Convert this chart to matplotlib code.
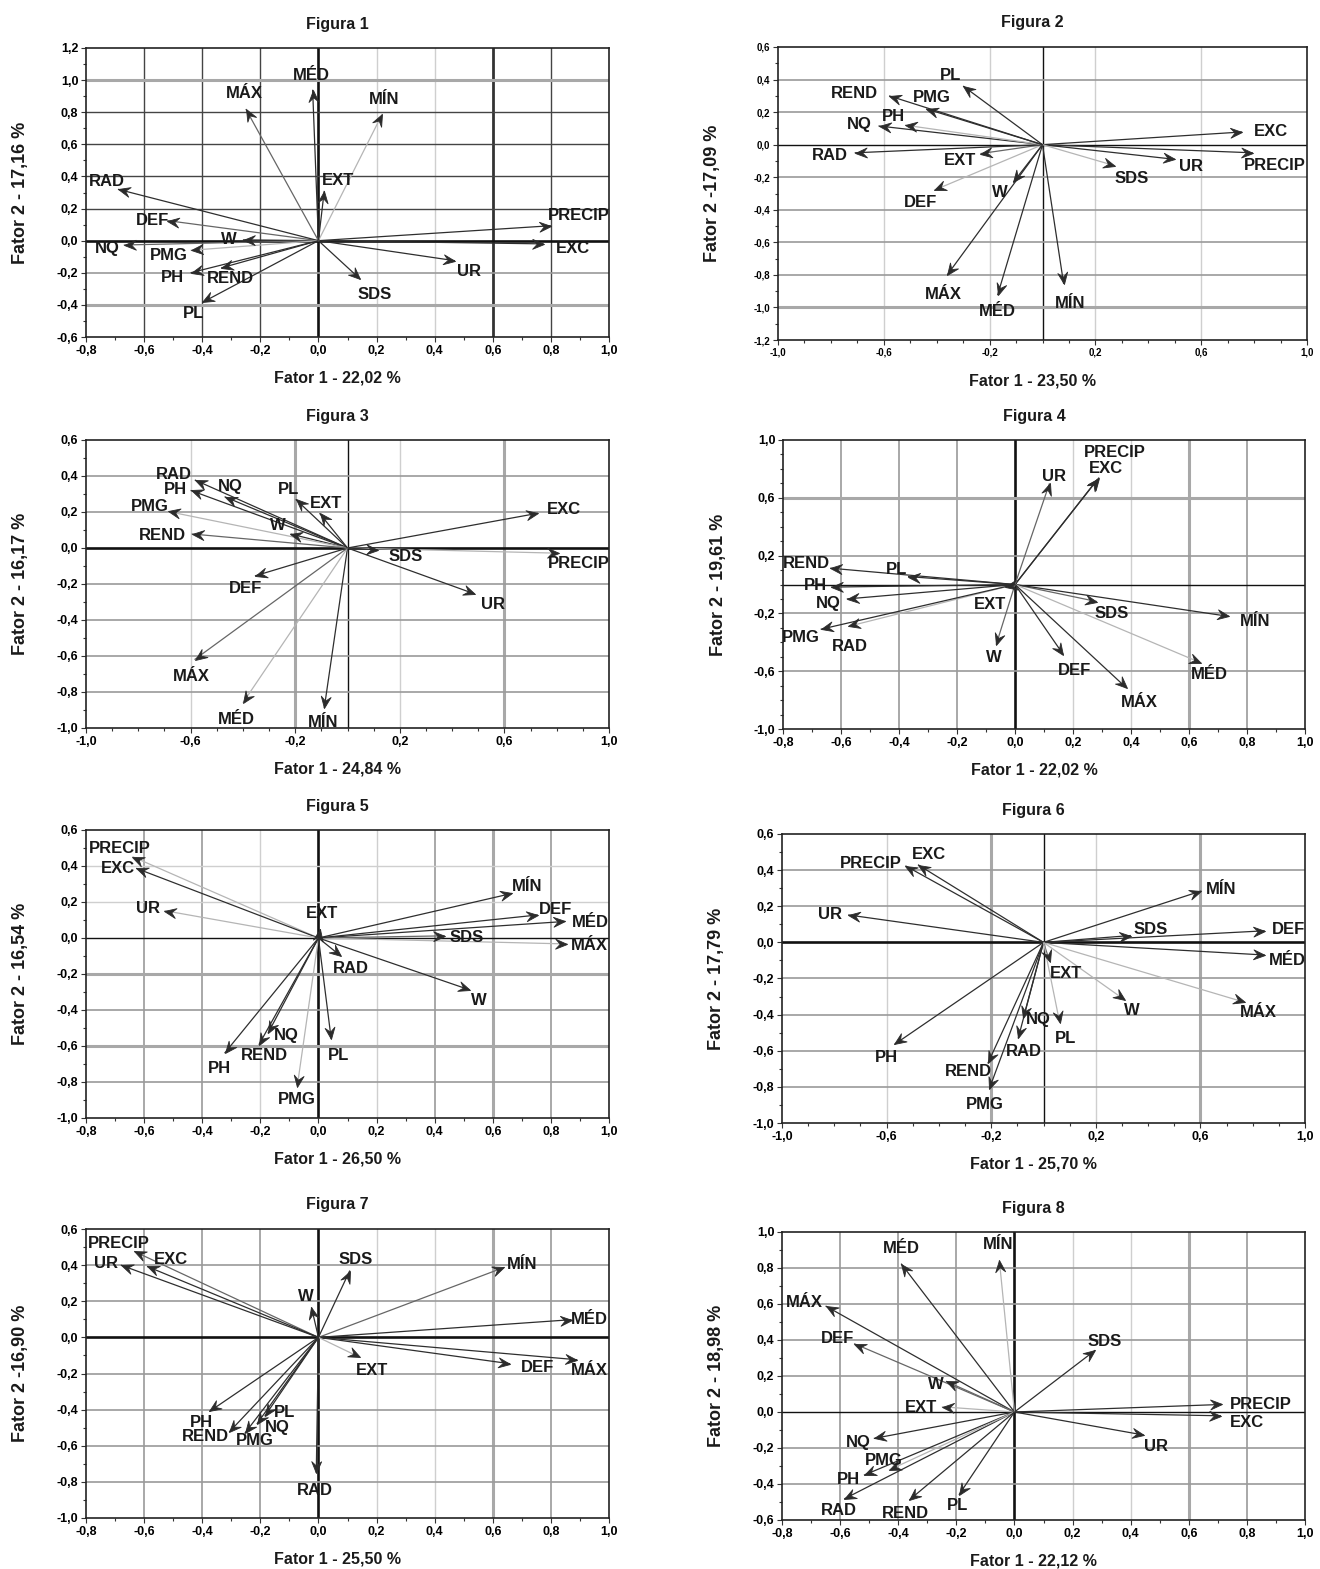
import numpy as np
import matplotlib
matplotlib.use('Agg')
import matplotlib.pyplot as plt
from matplotlib.path import Path
from matplotlib.markers import MarkerStyle
from matplotlib.transforms import Affine2D
from matplotlib.ticker import FuncFormatter, MultipleLocator, FixedLocator

plt.rcParams['font.family'] = ['Liberation Sans', 'DejaVu Sans']

W, H = 1320, 1569

# ---------------- data ----------------
VARS = ['PRECIP', 'EXC', 'UR', 'SDS', 'MÍN', 'MÉD', 'MÁX', 'DEF',
        'EXT', 'W', 'RAD', 'NQ', 'PH', 'PMG', 'REND', 'PL']

TITLES = ['Figura 1', 'Figura 2', 'Figura 3', 'Figura 4',
          'Figura 5', 'Figura 6', 'Figura 7', 'Figura 8']
XLABELS = ['Fator 1 - 22,02 %', 'Fator 1 - 23,50 %', 'Fator 1 - 24,84 %', 'Fator 1 - 22,02 %',
           'Fator 1 - 26,50 %', 'Fator 1 - 25,70 %', 'Fator 1 - 25,50 %', 'Fator 1 - 22,12 %']
YLABELS = ['Fator 2 - 17,16 %', 'Fator 2 -17,09 %', 'Fator 2 - 16,17 %', 'Fator 2 - 19,61 %',
           'Fator 2 - 16,54 %', 'Fator 2 - 17,79 %', 'Fator 2 -16,90 %', 'Fator 2 - 18,98 %']

fig1_f1 = [0.80, 0.775, 0.47, 0.144, 0.22, -0.02, -0.25, -0.52, 0.02, -0.26, -0.69, -0.67, -0.44, -0.44, -0.335, -0.40]
fig1_f2 = [0.093, -0.02, -0.125, -0.24, 0.79, 0.94, 0.82, 0.125, 0.31, 0.005, 0.32, -0.027, -0.20, -0.06, -0.17, -0.385]

fig2_f1 = [0.795, 0.755, 0.50, 0.275, 0.08, -0.17, -0.36, -0.41, -0.235, -0.11, -0.71, -0.62, -0.52, -0.44, -0.58, -0.30]
fig2_f2 = [-0.05, 0.078, -0.09, -0.13, -0.855, -0.925, -0.80, -0.28, -0.055, -0.23, -0.05, 0.115, 0.12, 0.22, 0.30, 0.36]

fig3_f1 = [0.81, 0.728, 0.486, 0.115, -0.089, -0.40, -0.585, -0.354, -0.107, -0.218, -0.584, -0.47, -0.60, -0.687, -0.596, -0.198]
fig3_f2 = [-0.029, 0.193, -0.255, -0.01, -0.89, -0.86, -0.62, -0.155, 0.193, 0.078, 0.378, 0.285, 0.32, 0.203, 0.078, 0.27]

fig4_f1 = [0.29, 0.285, 0.119, 0.282, 0.738, 0.643, 0.385, 0.167, -0.035, -0.065, -0.575, -0.58, -0.634, -0.67, -0.637, -0.369]
fig4_f2 = [0.74, 0.73, 0.70, -0.118, -0.221, -0.544, -0.717, -0.486, -0.014, -0.417, -0.29, -0.10, -0.018, -0.31, 0.113, 0.055]

fig5_f1 = [-0.64, -0.627, -0.53, 0.435, 0.667, 0.85, 0.857, 0.755, 0.006, 0.52, 0.077, -0.174, -0.323, -0.073, -0.205, 0.044]
fig5_f2 = [0.452, 0.387, 0.152, 0.012, 0.248, 0.092, -0.033, 0.128, 0.05, -0.288, -0.10, -0.53, -0.64, -0.825, -0.593, -0.562]

fig6_f1 = [-0.528, -0.48, -0.747, 0.334, 0.604, 0.846, 0.77, 0.846, 0.024, 0.312, -0.097, -0.077, -0.57, -0.207, -0.213, 0.062]
fig6_f2 = [0.424, 0.43, 0.152, 0.038, 0.285, -0.07, -0.332, 0.064, -0.107, -0.32, -0.532, -0.418, -0.565, -0.81, -0.67, -0.445]

fig7_f1 = [-0.634, -0.59, -0.68, 0.108, 0.64, 0.871, 0.891, 0.66, 0.142, -0.024, -0.0075, -0.212, -0.375, -0.253, -0.307, -0.185]
fig7_f2 = [0.476, 0.393, 0.40, 0.37, 0.388, 0.098, -0.124, -0.146, -0.11, 0.166, -0.75, -0.48, -0.41, -0.53, -0.524, -0.437]

fig8_f1 = [0.714, 0.711, 0.445, 0.278, -0.052, -0.39, -0.65, -0.552, -0.25, -0.236, -0.586, -0.484, -0.518, -0.432, -0.362, -0.191]
fig8_f2 = [0.042, -0.021, -0.128, 0.343, 0.843, 0.824, 0.589, 0.38, 0.029, 0.171, -0.483, -0.147, -0.351, -0.323, -0.489, -0.46]

F1 = [fig1_f1, fig2_f1, fig3_f1, fig4_f1, fig5_f1, fig6_f1, fig7_f1, fig8_f1]
F2 = [fig1_f2, fig2_f2, fig3_f2, fig4_f2, fig5_f2, fig6_f2, fig7_f2, fig8_f2]

# tick values
XT_A = [-0.8, -0.6, -0.4, -0.2, 0.0, 0.2, 0.4, 0.6, 0.8, 1.0]
XT_B = [-1.0, -0.6, -0.2, 0.2, 0.6, 1.0]
XTICKS = [XT_A, XT_B, XT_B, XT_A, XT_A, XT_B, XT_A, XT_A]
YTICKS = [
    [-0.6, -0.4, -0.2, 0.0, 0.2, 0.4, 0.6, 0.8, 1.0, 1.2],
    [-1.2, -1.0, -0.8, -0.6, -0.4, -0.2, 0.0, 0.2, 0.4, 0.6],
    [-1.0, -0.8, -0.6, -0.4, -0.2, 0.0, 0.2, 0.4, 0.6],
    [-1.0, -0.6, -0.2, 0.2, 0.6, 1.0],
    [-1.0, -0.8, -0.6, -0.4, -0.2, 0.0, 0.2, 0.4, 0.6],
    [-1.0, -0.8, -0.6, -0.4, -0.2, 0.0, 0.2, 0.4, 0.6],
    [-1.0, -0.8, -0.6, -0.4, -0.2, 0.0, 0.2, 0.4, 0.6],
    [-0.6, -0.4, -0.2, 0.0, 0.2, 0.4, 0.6, 0.8, 1.0],
]

# ---------------- layout / style ----------------
# label offsets (points) from arrow tip, in VARS order
OFFS = [
    [(20, 9), (21, -4), (10, -9), (10, -13), (1, 12), (-1, 12), (-1, 13), (-11, 0), (10, 9), (-10, 0), (-8, 7), (-12, -3), (-13, -4), (-16, -4), (7, -9), (-6, -9)],
    [(16, -11), (21, 0), (12, -6), (12, -11), (5, -17), (0, -14), (-3, -17), (-10, -10), (-15, -6), (-10, -9), (-18, -2), (-14, 1), (-8, 7), (4, 10), (-25, 2), (-9, 9)],
    [(14, -9), (19, 3), (13, -9), (20, -6), (-1, -12), (-5, -14), (-2, -14), (-7, -11), (5, 8), (-9, 7), (-15, 5), (4, 9), (-11, 1), (-13, 4), (-21, -1), (-5, 8)],
    [(11, 21), (6, 9), (3, 6), (11, -10), (19, -4), (6, -10), (9, -12), (8, -13), (-11, -15), (-2, -11), (1, -17), (-13, -4), (-11, 1), (-14, -7), (-17, 4), (-8, 6)],
    [(-9, 7), (-13, 0), (-12, 2), (16, -1), (11, 6), (18, -1), (16, -1), (13, 5), (1, 13), (7, -9), (7, -11), (13, -2), (-4, -13), (0, -11), (4, -9), (5, -14)],
    [(-25, 2), (8, 9), (-13, 0), (14, 5), (14, 1), (16, -5), (10, -9), (17, 1), (12, -10), (5, -9), (4, -11), (11, -1), (-6, -11), (-3, -13), (-14, -7), (4, -13)],
    [(-11, 7), (17, 6), (-11, 1), (4, 9), (13, 2), (13, 0), (9, -9), (20, -3), (9, -11), (-4, 9), (-1, -15), (15, -3), (-6, -9), (7, -6), (-17, -4), (14, 3)],
    [(28, 0), (19, -6), (9, -10), (7, 7), (-1, 13), (0, 13), (-15, 3), (-12, 4), (-15, -1), (-7, -3), (-4, -10), (-11, -3), (-11, -4), (-4, 8), (-3, -11), (-1, -9)],
]
DY_SCALE = 0.85

LIGHT = [{'MÍN', 'PMG'}, {'DEF', 'SDS', 'PH'}, {'PMG', 'PRECIP', 'MÉD'}, {'RAD', 'MÉD'},
         {'PRECIP', 'UR', 'PMG', 'MÁX'}, {'MÁX', 'W', 'PL'}, {'EXT'}, {'MÍN', 'PMG', 'EXT'}]
MEDIUM = [{'MÁX', 'DEF', 'NQ'}, {'EXT'}, {'MÁX', 'REND'}, {'W', 'UR', 'SDS'},
          {'SDS'}, {'EXT'}, {'PRECIP', 'MÍN'}, {'DEF', 'W'}]

# axes pixel boxes: left, top, right, bottom
BOX = [(86, 48, 609, 337), (778, 47, 1307, 340), (86, 440, 609, 728), (783, 440, 1305, 729),
       (86, 830, 609, 1118), (782, 834, 1305, 1123), (86, 1229, 609, 1518), (782, 1232, 1305, 1520)]
XLIM = [(-0.8, 1.0), (-1.0, 1.0), (-1.0, 1.0), (-0.8, 1.0), (-0.8, 1.0), (-1.0, 1.0), (-0.8, 1.0), (-0.8, 1.0)]
YLIM = [(-0.6, 1.2), (-1.2, 0.6), (-1.0, 0.6), (-1.0, 1.0), (-1.0, 0.6), (-1.0, 0.6), (-1.0, 0.6), (-0.6, 1.0)]
TICKSIZE = [9, 7, 9, 9, 9, 9, 9, 9]

GSTYLE = {
    'k': dict(color='#111111', lw=1.9),
    't': dict(color='#111111', lw=1.0),
    'K': dict(color='#333333', lw=2.0),
    'd': dict(color='#444444', lw=1.0),
    'g': dict(color='#9a9a9a', lw=1.2),
    'G': dict(color='#a8a8a8', lw=2.2),
    'l': dict(color='#cfcfcf', lw=1.0),
}
VGRID = [
    [(-0.6, 'd'), (-0.4, 'd'), (-0.2, 'd'), (0, 'k'), (0.2, 'l'), (0.4, 'l'), (0.6, 'K'), (0.8, 'd')],
    [(-0.6, 'l'), (-0.2, 'l'), (0, 't'), (0.2, 'l'), (0.6, 'l')],
    [(-0.6, 'l'), (-0.2, 'G'), (0, 't'), (0.2, 'l'), (0.6, 'G')],
    [(-0.6, 'g'), (-0.4, 'g'), (-0.2, 'g'), (0, 'k'), (0.2, 'l'), (0.4, 'l'), (0.6, 'G'), (0.8, 'g')],
    [(-0.6, 'g'), (-0.4, 'g'), (-0.2, 'l'), (0, 'k'), (0.2, 'l'), (0.4, 'g'), (0.6, 'G'), (0.8, 'g')],
    [(-0.6, 'l'), (-0.2, 'G'), (0, 't'), (0.2, 'l'), (0.6, 'G')],
    [(-0.6, 'g'), (-0.4, 'g'), (-0.2, 'g'), (0, 'k'), (0.2, 'l'), (0.4, 'l'), (0.6, 'G'), (0.8, 'g')],
    [(-0.6, 'g'), (-0.4, 'g'), (-0.2, 'g'), (0, 'k'), (0.2, 'l'), (0.4, 'l'), (0.6, 'G'), (0.8, 'g')],
]
HGRID = [
    [(1.0, 'G'), (0.8, 'd'), (0.6, 'd'), (0.4, 'd'), (0.2, 'd'), (0, 'k'), (-0.2, 'g'), (-0.4, 'G')],
    [(0.4, 'g'), (0.2, 'g'), (0, 't'), (-0.2, 'g'), (-0.4, 'g'), (-0.6, 'g'), (-0.8, 'g'), (-1.0, 'G')],
    [(0.4, 'g'), (0.2, 'g'), (0, 'k'), (-0.2, 'g'), (-0.4, 'g'), (-0.6, 'g'), (-0.8, 'g')],
    [(0.6, 'G'), (0.2, 'g'), (0, 't'), (-0.2, 'g'), (-0.6, 'g')],
    [(0.4, 'l'), (0.2, 'l'), (0, 't'), (-0.2, 'G'), (-0.4, 'g'), (-0.6, 'G'), (-0.8, 'g')],
    [(0.4, 'g'), (0.2, 'g'), (0, 'k'), (-0.2, 'g'), (-0.4, 'g'), (-0.6, 'g'), (-0.8, 'g')],
    [(0.4, 'g'), (0.2, 'g'), (0, 'k'), (-0.2, 'g'), (-0.4, 'g'), (-0.6, 'g'), (-0.8, 'g')],
    [(0.8, 'g'), (0.6, 'g'), (0.4, 'g'), (0.2, 'g'), (0, 't'), (-0.2, 'g'), (-0.4, 'g')],
]

DART = Path([(0, 0), (-1.0, 0.42), (-0.62, 0), (-1.0, -0.42), (0, 0)],
            [Path.MOVETO, Path.LINETO, Path.LINETO, Path.LINETO, Path.CLOSEPOLY])


def fmt(v, pos=None):
    if abs(v) < 1e-9:
        return '0,0'
    return f'{v:.1f}'.replace('.', ',')


fig = plt.figure(figsize=(W / 100, H / 100), dpi=100)
fig.patch.set_facecolor('white')

for p in range(8):
    L, T, R, B = BOX[p]
    ax = fig.add_axes([L / W, 1 - B / H, (R - L) / W, (B - T) / H])
    ax.set_xlim(*XLIM[p])
    ax.set_ylim(*YLIM[p])
    ax.xaxis.set_major_locator(FixedLocator(XTICKS[p]))
    ax.yaxis.set_major_locator(FixedLocator(YTICKS[p]))
    ax.xaxis.set_minor_locator(MultipleLocator(0.1))
    ax.yaxis.set_minor_locator(MultipleLocator(0.1))
    ax.xaxis.set_major_formatter(FuncFormatter(fmt))
    ax.yaxis.set_major_formatter(FuncFormatter(fmt))
    ax.tick_params(which='both', direction='out', width=0.8, color='#333333')
    ax.tick_params(which='major', length=3.5, labelsize=TICKSIZE[p], pad=2)
    ax.tick_params(which='minor', length=2.5)
    for lab in ax.get_xticklabels() + ax.get_yticklabels():
        lab.set_fontweight('bold')
    for s in ax.spines.values():
        s.set_color('#222222')
        s.set_linewidth(1.2)
    for v, st in VGRID[p]:
        ax.axvline(v, zorder=1, **GSTYLE[st])
    for v, st in HGRID[p]:
        ax.axhline(v, zorder=1, **GSTYLE[st])

    for i, name in enumerate(VARS):
        x, y = F1[p][i], F2[p][i]
        if name in LIGHT[p]:
            c = '#b5b5b5'
        elif name in MEDIUM[p]:
            c = '#666666'
        else:
            c = '#2e2e2e'
        ax.plot([0, x], [0, y], color=c, lw=0.9, zorder=3, solid_capstyle='butt')
        p0 = ax.transData.transform((0, 0))
        p1 = ax.transData.transform((x, y))
        th = np.arctan2(p1[1] - p0[1], p1[0] - p0[0])
        mk = MarkerStyle(DART, transform=Affine2D().rotate(th))
        ax.plot([x], [y], marker=mk, ms=17, color='#2b2b2b', mec='#2b2b2b', mew=0.6,
                zorder=4, linestyle='none')
        dx, dy = OFFS[p][i]
        ax.annotate(name, (x, y), xytext=(dx, dy * DY_SCALE), textcoords='offset points',
                    ha='center', va='center', fontsize=12, fontweight='bold',
                    color='#1a1a1a', zorder=5, annotation_clip=False)

    cx = (L + R) / 2 - 10
    fig.text(cx / W, 1 - (T - 24) / H, TITLES[p], ha='center', va='center',
             fontsize=11.5, fontweight='bold', color='#1a1a1a')
    fig.text(cx / W, 1 - (B + 41) / H, XLABELS[p], ha='center', va='center',
             fontsize=11.5, fontweight='bold', color='#1a1a1a')
    fig.text((L - 65) / W, 1 - ((T + B) / 2) / H, YLABELS[p], ha='center', va='center',
             rotation=90, fontsize=13, fontweight='bold', color='#1a1a1a')

fig.savefig('out.png', dpi=100, facecolor='white')
